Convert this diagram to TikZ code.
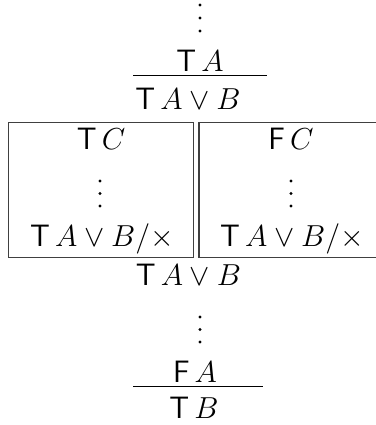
\documentclass[tikz,border=0pt]{standalone}
\usepackage{amsmath}
\newcommand{\sgn}[1]{\textsf{#1}\,}
\begin{document}
\begin{tikzpicture}[x=0.02cm,y=-0.02cm]
		\tikzstyle{every node}=[font=\fontsize{17.6pt}{21pt}\selectfont, inner sep=0pt]
		\tikzstyle{formula}=[anchor=base]
		\tikzstyle{branchbox}=[draw=black!75, line width=0.6pt]
		\tikzstyle{rule}=[line width=0.55pt]
		\useasboundingbox (0,0) rectangle (375,425);
		% upper part
		\foreach \y in {5,18,31} \fill (200,\y) circle (1.7);
		\node [formula] (premA) at (200,72) {\sgn{T}$A$};
		\draw [rule] (133,75) -- (267,75);
		\node [formula] (concA) at (188,110) {\sgn{T}$A\vee B$};
		% the two branches
		\draw [branchbox] (8.5,122.5) rectangle (193.3,257.7);
		\draw [branchbox] (199,122.5) rectangle (377,257.7);
		\node [formula] (leftC) at (101,149.3) {\sgn{T}$C$};
		\foreach \y in {181,193.5,206} \fill (100,\y) circle (1.7);
		\node [formula] (leftend) at (102,246.7) {\sgn{T}$A\vee B/{\times}$};
		\node [formula] (rightC) at (291,149.3) {\sgn{F}$C$};
		\foreach \y in {181,193.5,206} \fill (291,\y) circle (1.7);
		\node [formula] (rightend) at (292,246.7) {\sgn{T}$A\vee B/{\times}$};
		% lower part
		\node [formula] (joinA) at (188.5,285) {\sgn{T}$A\vee B$};
		\foreach \y in {317,329.5,342} \fill (200,\y) circle (1.7);
		\node [formula] (premB) at (195,382.7) {\sgn{F}$A$};
		\draw [rule] (133,386.7) -- (263,386.7);
		\node [formula] (concB) at (194,418.5) {\sgn{T}$B$};
	\end{tikzpicture}
\end{document}
